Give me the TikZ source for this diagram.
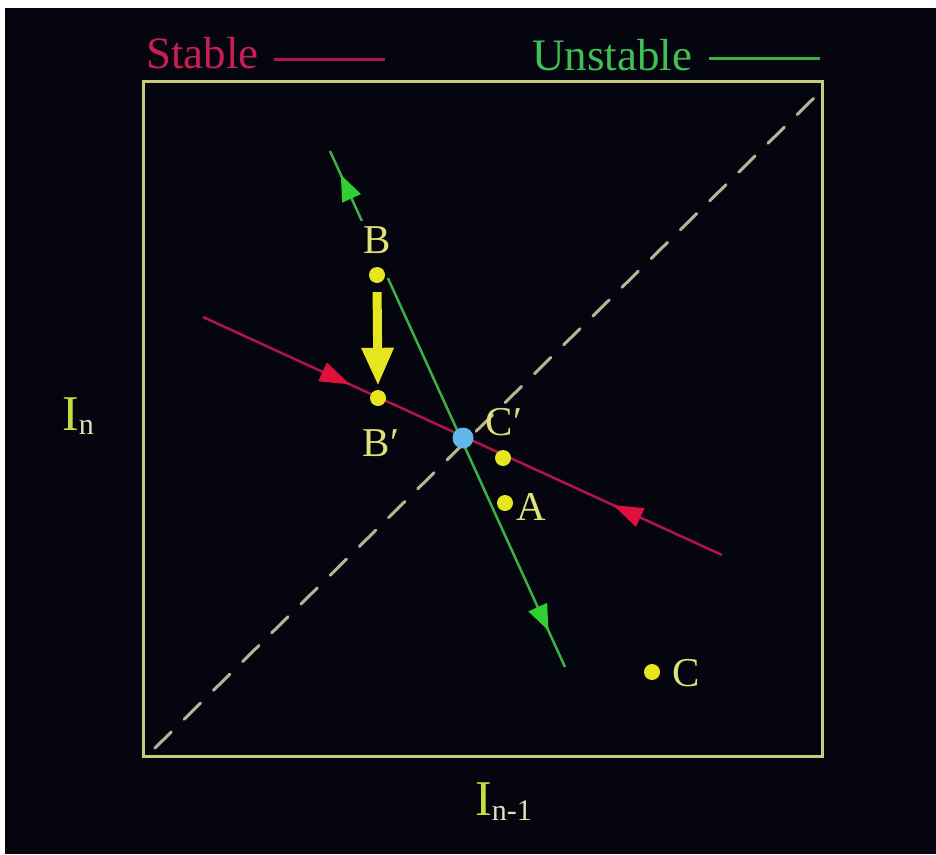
\documentclass[tikz,border=0pt]{standalone}
\usepackage{fontspec}
\setmainfont{Liberation Serif}
\usetikzlibrary{arrows.meta,decorations.markings}
\definecolor{bg}{HTML}{05050F}
\definecolor{boxcol}{HTML}{C9C97A}
\definecolor{dashcol}{HTML}{B4B496}
\definecolor{stabcol}{HTML}{B0144E}
\definecolor{stabtxt}{HTML}{C81E52}
\definecolor{redhead}{HTML}{E0103C}
\definecolor{unstcol}{HTML}{3CB044}
\definecolor{unsttxt}{HTML}{40C052}
\definecolor{greenhead}{HTML}{30D030}
\definecolor{labcol}{HTML}{E0E07A}
\definecolor{dotcol}{HTML}{E6E61E}
\definecolor{bluedot}{HTML}{62B8EA}
\definecolor{axisI}{HTML}{C8DC40}
\definecolor{axissub}{HTML}{DEDEB8}
\begin{document}
\begin{tikzpicture}[x=1pt,y=-1pt,
  boxline/.style={draw=boxcol,line width=3pt},
  diag/.style={draw=dashcol,line width=3pt,dash pattern=on 23pt off 18pt,line cap=round},
  stableline/.style={draw=stabcol,line width=2.5pt},
  unstableline/.style={draw=unstcol,line width=2.5pt},
  ptlabel/.style={text=labcol,font=\fontsize{41}{45}\selectfont,inner sep=1pt},
  dot/.style={circle,fill=dotcol,inner sep=0pt,minimum size=16pt},
  fixdot/.style={circle,fill=bluedot,inner sep=0pt,minimum size=21pt},
  legend/.style={font=\fontsize{45}{50}\selectfont,inner sep=0pt,anchor=base west},
  yarrow/.style={draw=dotcol,line width=9pt,-{Triangle[length=38pt,width=30pt,color=dotcol]}}
]
\useasboundingbox (0,0) rectangle (936,854);
\fill[white] (0,0) rectangle (936,854);
\fill[bg] (5,8) rectangle (936,854);

% legend
\node[legend,text=stabtxt] (stab) at (146,68) {Stable};
\node[legend,text=unsttxt] (unst) at (532,70) {Unstable};
\coordinate (sl1) at (274,59); \coordinate (sl2) at (385,59);
\coordinate (ul1) at (709,58); \coordinate (ul2) at (820,58);
\draw[draw=stabcol,line width=3pt] (sl1) -- (sl2);
\draw[draw=unstcol,line width=3pt] (ul1) -- (ul2);

% axes labels
\node[anchor=base west,inner sep=0pt] (In) at (62,430)
  {\fontsize{50}{50}\selectfont\color{axisI}I\raisebox{-4pt}{\fontsize{30}{30}\selectfont\color{axissub}n}};
\node[anchor=base west,inner sep=0pt] (In1) at (475,815)
  {\fontsize{50}{50}\selectfont\color{axisI}I\raisebox{-5pt}{\fontsize{30}{30}\selectfont\color{axissub}n-1}};

% dashed diagonal
\coordinate (dA) at (155,748);
\coordinate (dB) at (822,90);
\draw[diag] (dA) -- (dB);

% box
\draw[boxline] (143,81) rectangle (822,756);

% stable manifold
\coordinate (rL) at (203,317);
\coordinate (rR) at (722,555);
\draw[stableline,
  decoration={markings,
    mark=at position 0.283 with {\arrow{Triangle[length=30pt,width=20pt,color=redhead]}},
    mark=at position 0.79 with {\arrowreversed{Triangle[length=30pt,width=20pt,color=redhead]}}},
  postaction={decorate}] (rL) -- (rR);

% unstable manifold
\coordinate (gT) at (330,151);
\coordinate (gB) at (565,667);
\draw[unstableline,
  decoration={markings,
    mark=at position 0.046 with {\arrowreversed{Triangle[length=26pt,width=20pt,color=greenhead]}},
    mark=at position 0.93 with {\arrow{Triangle[length=26pt,width=20pt,color=greenhead]}}},
  postaction={decorate}] (gT) -- (gB);

% labels
\node[ptlabel,fill=bg,anchor=base,text depth=18pt,inner xsep=4pt,inner ysep=6pt] (lB) at (377,253.5) {B};
\node[ptlabel] (lBp) at (381,443) {B′};
\node[ptlabel] (lCp) at (504,422) {C′};
\node[ptlabel] (lA) at (531,507) {A};
\node[ptlabel] (lC) at (686,673) {C};

% points
\node[dot] (pB) at (377,275) {};
\node[dot] (pBp) at (378,398) {};
\node[dot] (pCp) at (503,458) {};
\node[dot] (pA) at (505,503) {};
\node[dot] (pC) at (652,672) {};
\node[fixdot] (fp) at (463,438) {};

% yellow arrow B -> B'
\draw[yarrow,shorten <=9pt,shorten >=4pt] (pB.south) -- (pBp.north);
\end{tikzpicture}
\end{document}
